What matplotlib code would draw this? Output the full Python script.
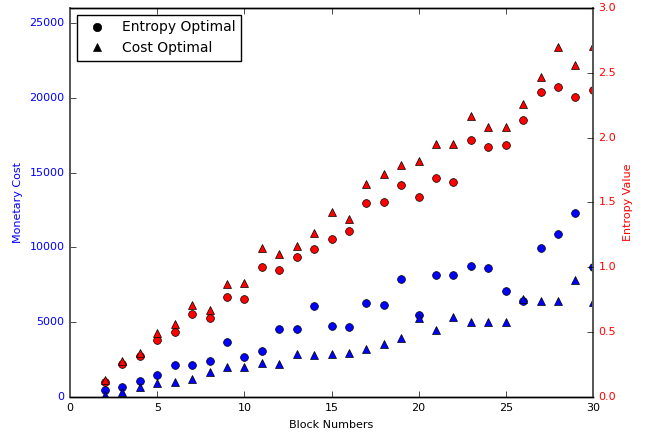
import numpy as np
import matplotlib
matplotlib.use("Agg")
import matplotlib.pyplot as plt
from matplotlib.lines import Line2D

plt.style.use("classic")

#%% data
blocks = np.arange(2, 31)

# monetary cost (left axis)
cost_entropy_opt = [500, 700, 1070, 1470, 2140, 2140, 2400, 3680, 2700, 3100,
                    4520, 4520, 6100, 4750, 4700, 6260, 6150, 7870, 5460, 8150,
                    8130, 8730, 8600, 7110, 6440, 9940, 10900, 12280, 8710]
cost_cost_opt = [150, 360, 690, 960, 1000, 1220, 1650, 2030, 1980, 2250,
                 2200, 2870, 2800, 2870, 2910, 3230, 3540, 3940, 5260, 4480,
                 5350, 5010, 5010, 5010, 6530, 6420, 6440, 7820, 6330]

# entropy value (right axis)
ent_entropy_opt = [0.113, 0.252, 0.314, 0.437, 0.501, 0.642, 0.612, 0.771, 0.758, 1.005,
                   0.981, 1.077, 1.144, 1.218, 1.280, 1.494, 1.500, 1.637, 1.545, 1.689,
                   1.658, 1.980, 1.926, 1.943, 2.136, 2.352, 2.390, 2.311, 2.365]
ent_cost_opt = [0.134, 0.275, 0.339, 0.491, 0.563, 0.712, 0.671, 0.871, 0.881, 1.149,
                1.103, 1.165, 1.262, 1.424, 1.375, 1.643, 1.720, 1.790, 1.822, 1.951,
                1.951, 2.167, 2.085, 2.085, 2.260, 2.468, 2.700, 2.563, 2.709]

#%% plot
fig = plt.figure(figsize=(6.5, 4.37), dpi=100, facecolor="white")
ax = fig.add_axes([0.108, 0.0915, 0.804, 0.8905])
ax2 = ax.twinx()

ms = 5.6
ax.plot(blocks, cost_entropy_opt, "o", color="b", mec="k", ms=ms)
ax.plot(blocks, cost_cost_opt, "^", color="b", mec="k", ms=ms)
ax2.plot(blocks, ent_entropy_opt, "o", color="r", mec="k", ms=ms)
ax2.plot(blocks, ent_cost_opt, "^", color="r", mec="k", ms=ms)

ax.set_xlim(0, 30)
ax.set_ylim(0, 26000)
ax2.set_ylim(0, 3.0)
ax.set_yticks(np.arange(0, 26000, 5000))
ax2.set_yticks(np.arange(0, 3.01, 0.5))

fs = 8
ax.set_xlabel("Block Numbers", fontsize=fs)
ax.set_ylabel("Monetary Cost", color="b", fontsize=fs)
ax2.set_ylabel("Entropy Value", color="r", fontsize=fs)
ax.tick_params(axis="x", labelsize=fs)
ax.tick_params(axis="y", labelsize=fs, labelcolor="b")
ax2.tick_params(axis="y", labelsize=fs, labelcolor="r")

# side spines look heavier and grey in the original
for a in (ax, ax2):
    for side in ("left", "right"):
        a.spines[side].set_color("0.35")
        a.spines[side].set_linewidth(1.4)

handles = [Line2D([], [], marker="o", color="k", ls="none", ms=6),
           Line2D([], [], marker="^", color="k", ls="none", ms=6)]
ax.legend(handles, ["Entropy Optimal", "Cost Optimal"], loc="upper left",
          numpoints=1, fontsize=10, borderaxespad=0.5)

fig.savefig("out.png", dpi=100, facecolor="white")
